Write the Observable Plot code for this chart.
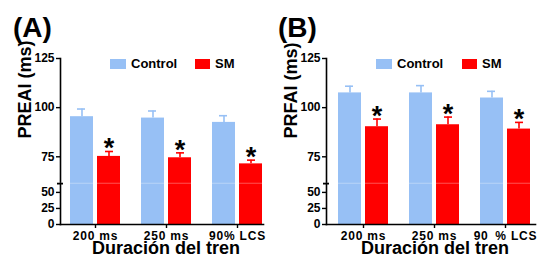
<!DOCTYPE html>
<html>
<head>
<meta charset="utf-8">
<script src="https://cdn.jsdelivr.net/npm/d3@7"></script>
<script src="https://cdn.jsdelivr.net/npm/@observablehq/plot@0.6"></script>
<style>
  html, body { margin: 0; padding: 0; background: #fff; }
  #root { position: relative; width: 560px; height: 273px; overflow: hidden;
          font-family: "Liberation Sans", Arial, Helvetica, sans-serif; }
  .panel { position: absolute; top: 0; width: 280px; height: 273px; }
  .tag { position: absolute; font-size: 28px; font-weight: bold; line-height: 1; }
  .legend { position: absolute; top: 57px; font-size: 13px; font-weight: bold; height: 13px; }
  .sw { position: absolute; width: 16px; height: 10px; top: 2px; }
  .lt { position: absolute; top: -1px; white-space: nowrap; }
  .xt text { letter-spacing: 0.8px; }
</style>
</head>
<body>
<div id="root"></div>
<script>
// ---------- data ----------
const seriesNames = ["Control", "SM"];
const seriesColors = ["#97c0f5", "#ff0000"];

const groupsA = ["200 ms", "250 ms", "90% LCS"];
const controlA = [95.4, 94.7, 92.5];
const controlErrA = [3.9, 3.6, 3.4];
const smA = [75.2, 74.5, 71.4];
const smErrA = [2.5, 2.5, 1.9];

const groupsB = ["200 ms", "250 ms", "90\u2002% LCS"];
const controlB = [107.5, 107.5, 104.9];
const controlErrB = [3.4, 3.7, 3.4];
const smB = [90.3, 91.3, 89.1];
const smErrB = [3.9, 3.9, 3.4];

const yTicks = [0, 25, 50, 75, 100, 125];
const lowerMax = 64;    // top of lower axis segment
const upperMin = 63.5;  // bottom of upper axis segment

// ---------- broken-axis mapping (lower segment compressed) ----------
const k = 0.64 / 1.96;
const gapUnits = 4 / 1.96;
function f(v) {
  return v <= lowerMax ? v * k : lowerMax * k + gapUnits + (v - upperMin);
}
const tickLabel = new Map(yTicks.map(t => [f(t), String(t)]));

const font = '"Liberation Sans", Arial, Helvetica, sans-serif';

function panel({groups, control, controlErr, sm, smErr, yLabel, marginLeft, marginRight, xRange}) {
  const rows = groups.map((g, i) => ({
    group: g,
    control: control[i], controlTop: control[i] + controlErr[i],
    sm: sm[i], smTop: sm[i] + smErr[i]
  }));
  return Plot.plot({
    width: 280, height: 273,
    marginTop: 58, marginBottom: 49, marginLeft, marginRight,
    style: {fontFamily: font, color: "#000", background: "transparent", overflow: "visible"},
    x: {domain: groups, range: xRange, padding: 21 / 71},
    y: {domain: [0, f(125)]},
    marks: [
      // bars
      Plot.barY(rows, {x: "group", y1: 0, y2: d => f(d.control), fill: seriesColors[0], insetRight: 27}),
      Plot.barY(rows, {x: "group", y1: 0, y2: d => f(d.sm), fill: seriesColors[1], insetLeft: 27}),
      // error bars (upper only)
      Plot.ruleX(rows, {x: "group", y1: d => f(d.control), y2: d => f(d.controlTop), dx: -13.5, stroke: seriesColors[0], strokeWidth: 1.6}),
      Plot.tickY(rows, {x: "group", y: d => f(d.controlTop), stroke: seriesColors[0], strokeWidth: 1.6, insetLeft: 7, insetRight: 35}),
      Plot.ruleX(rows, {x: "group", y1: d => f(d.sm), y2: d => f(d.smTop), dx: 13.5, stroke: seriesColors[1], strokeWidth: 1.6}),
      Plot.tickY(rows, {x: "group", y: d => f(d.smTop), stroke: seriesColors[1], strokeWidth: 1.6, insetLeft: 35, insetRight: 7}),
      // significance asterisks
      Plot.text(rows, {x: "group", y: d => f(d.smTop), text: () => "*", dx: 13.5, dy: -3, fontSize: 27, fontWeight: "bold", fill: "#000"}),
      // axis lines
      Plot.frame({anchor: "left", strokeWidth: 1.6}),
      Plot.frame({anchor: "bottom", strokeWidth: 1.6}),
      // axis break (white band)
      Plot.rect([0], {y1: f(upperMin), y2: f(lowerMax), fill: "#fff", insetLeft: -4, insetRight: -2}),
      Plot.axisY({ticks: [f(upperMin), f(lowerMax)], tickSize: 6, dx: 3, tickFormat: () => "", label: null, strokeWidth: 1.4}),
      // y axis
      Plot.axisY({ticks: yTicks.map(f), tickFormat: d => tickLabel.get(d), tickSize: 4, tickPadding: 2,
                  fontSize: 12, fontWeight: "bold", label: null, strokeWidth: 1.4}),
      // x axis
      Plot.axisX({tickSize: 4, tickPadding: 3, fontSize: 12, fontWeight: "bold", label: null, strokeWidth: 1.4, className: "xt"}),
      // axis titles
      Plot.text([yLabel], {frameAnchor: "left", rotate: -90, dx: -35, dy: -3, fontSize: 18, fontWeight: "bold", fill: "#000"}),
      Plot.text(["Duración del tren"], {frameAnchor: "bottom", dy: 29, dx: 4, fontSize: 18, fontWeight: "bold", fill: "#000"})
    ]
  });
}

const root = document.getElementById("root");

function addPanel(left, opts, tag, tagLeft, legendPos) {
  const div = document.createElement("div");
  div.className = "panel";
  div.style.left = left + "px";
  div.appendChild(panel(opts));
  root.appendChild(div);

  const t = document.createElement("div");
  t.className = "tag";
  t.style.left = tagLeft + "px";
  t.style.top = "14px";
  t.textContent = tag;
  root.appendChild(t);

  seriesNames.forEach((name, i) => {
    const lg = document.createElement("div");
    lg.className = "legend";
    lg.style.left = legendPos[i] + "px";
    const sw = document.createElement("div");
    sw.className = "sw";
    sw.style.background = seriesColors[i];
    sw.style.width = (i === 0 ? 16 : 15) + "px";
    const lt = document.createElement("div");
    lt.className = "lt";
    lt.style.left = (i === 0 ? 21 : 20) + "px";
    lt.textContent = name;
    lg.appendChild(sw);
    lg.appendChild(lt);
    root.appendChild(lg);
  });
}

addPanel(0, {groups: groupsA, control: controlA, controlErr: controlErrA, sm: smA, smErr: smErrA,
             yLabel: "PREAI (ms)", marginLeft: 60, marginRight: 17, xRange: [49, 283]},
         "(A)", 13, [110, 195]);
addPanel(280, {groups: groupsB, control: controlB, controlErr: controlErrB, sm: smB, smErr: smErrB,
             yLabel: "PRFAI (ms)", marginLeft: 46, marginRight: 25, xRange: [37, 271]},
         "(B)", 278, [376, 462]);
</script>
</body>
</html>
